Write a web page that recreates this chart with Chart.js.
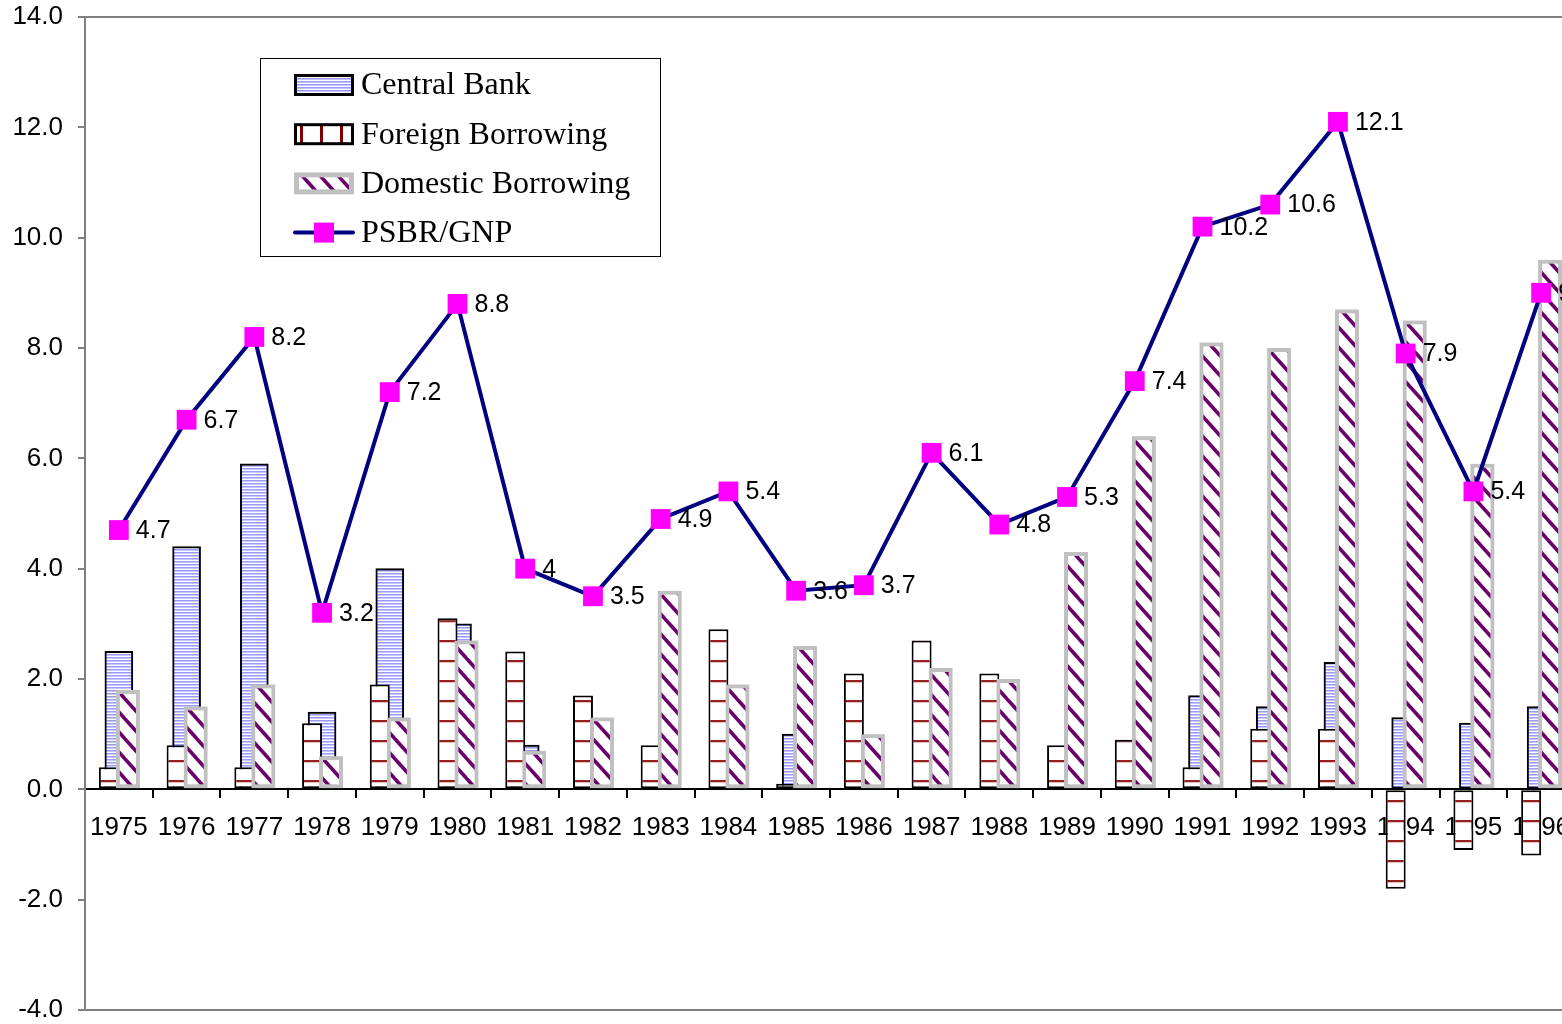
<!DOCTYPE html>
<html>
<head>
<meta charset="utf-8">
<title>PSBR/GNP and its financing</title>
<script src="https://cdn.jsdelivr.net/npm/chart.js@4.4.1/dist/chart.umd.min.js"></script>
<style>
  html, body { margin: 0; padding: 0; background: #fff; overflow: hidden; }
  #wrap { width: 1589px; height: 1024px; }
</style>
</head>
<body>
<div id="wrap"><canvas id="psbr" width="1589" height="1024"></canvas></div>
<script>
// financing of the public sector borrowing requirement, % of GNP
var years = ['1975', '1976', '1977', '1978', '1979', '1980', '1981', '1982', '1983', '1984', '1985',
             '1986', '1987', '1988', '1989', '1990', '1991', '1992', '1993', '1994', '1995', '1996'];
var centralBank       = [2.5, 4.4, 5.9, 1.4, 4.0, 3.0, 0.8, 0.0, 0.0, 0.0, 1.0,
                         0.0, 0.0, 0.0, 0.0, 0.0, 1.7, 1.5, 2.3, 1.3, 1.2, 1.5];
var foreignBorrowing  = [0.4, 0.8, 0.4, 1.2, 1.9, 3.1, 2.5, 1.7, 0.8, 2.9, 0.1,
                         2.1, 2.7, 2.1, 0.8, 0.9, 0.4, 1.1, 1.1, -1.8, -1.1, -1.2];
var domesticBorrowing = [1.8, 1.5, 1.9, 0.6, 1.3, 2.7, 0.7, 1.3, 3.6, 1.9, 2.6,
                         1.0, 2.2, 2.0, 4.3, 6.4, 8.1, 8.0, 8.7, 8.5, 5.9, 9.6];
var psbrGnp           = [4.7, 6.7, 8.2, 3.2, 7.2, 8.8, 4, 3.5, 4.9, 5.4, 3.6,
                         3.7, 6.1, 4.8, 5.3, 7.4, 10.2, 10.6, 12.1, 7.9, 5.4, 9];
var yMin = -4, yMax = 14, yStep = 2;

var sansFont = '"Liberation Sans", Arial, sans-serif';
var serifFont = '"Liberation Serif", "Times New Roman", serif';

function makePattern(w, h, paint) {
  var c = document.createElement('canvas');
  c.width = w; c.height = h;
  var g = c.getContext('2d');
  paint(g, w, h);
  return g.createPattern(c, 'repeat');
}

// fine horizontal blue hatching
var blueLines = makePattern(4, 3, function (g, w, h) {
  g.fillStyle = '#fff'; g.fillRect(0, 0, w, h);
  g.fillStyle = '#9a9aff'; g.fillRect(0, 0, w, 1);
  g.fillStyle = '#c6c6ff'; g.fillRect(0, 1, w, 1);
});
// wide dark-red rules
var redRules = makePattern(4, 20, function (g, w, h) {
  g.fillStyle = '#fff'; g.fillRect(0, 0, w, h);
  g.fillStyle = '#962020'; g.fillRect(0, 0, w, 2);
  g.fillStyle = '#e6c0c0'; g.fillRect(0, 2, w, 1);
});
var redRulesV = makePattern(20, 4, function (g, w, h) {
  g.fillStyle = '#fff'; g.fillRect(0, 0, w, h);
  g.fillStyle = '#800000'; g.fillRect(0, 0, 3, h);
});
// purple downward diagonals
var purpleDiag = makePattern(18, 20, function (g, w, h) {
  g.fillStyle = '#fff'; g.fillRect(0, 0, w, h);
  g.strokeStyle = '#6a006a'; g.lineWidth = 3.6;
  [-w, 0, w].forEach(function (dx) {
    g.beginPath();
    g.moveTo(dx - w, -h);
    g.lineTo(dx + 2 * w, 2 * h);
    g.stroke();
  });
});

// frame of the plot area (top/bottom rules)
var plotFrame = {
  id: 'plotFrame',
  beforeDatasetsDraw: function (chart) {
    var a = chart.chartArea, ctx = chart.ctx;
    ctx.save();
    ctx.strokeStyle = '#808080';
    ctx.lineWidth = 2;
    ctx.strokeRect(a.left, a.top, a.right - a.left, a.bottom - a.top);
    ctx.restore();
  }
};

// domestic bars overlap the foreign ones, so paint them again once foreign is done
var overlapOrder = {
  id: 'overlapOrder',
  afterDatasetDraw: function (chart, args) {
    if (args.index !== 1) return;
    var ctx = chart.ctx;
    ctx.save();
    chart.getDatasetMeta(2).data.forEach(function (el) { el.draw(ctx, chart.chartArea); });
    ctx.restore();
  }
};

// value labels beside the PSBR markers
var pointLabels = {
  id: 'pointLabels',
  afterDatasetsDraw: function (chart) {
    var idx = chart.data.datasets.findIndex(function (d) { return d.type === 'line'; });
    var meta = chart.getDatasetMeta(idx);
    var vals = chart.data.datasets[idx].data;
    var ctx = chart.ctx;
    ctx.save();
    ctx.font = '25px ' + sansFont;
    ctx.fillStyle = '#000';
    ctx.textAlign = 'left';
    ctx.textBaseline = 'middle';
    meta.data.forEach(function (pt, i) {
      ctx.fillText(String(vals[i]), pt.x + 17, pt.y + 1);
    });
    ctx.restore();
  }
};

// boxed legend sitting inside the plot
var boxLegend = {
  id: 'boxLegend',
  afterDraw: function (chart, args, opts) {
    var ctx = chart.ctx;
    var b = opts.box;
    ctx.save();
    ctx.fillStyle = '#fff';
    ctx.fillRect(b.x, b.y, b.w, b.h);
    ctx.strokeStyle = '#000';
    ctx.lineWidth = 1;
    ctx.strokeRect(b.x + 0.5, b.y + 0.5, b.w, b.h);
    ctx.font = opts.font;
    ctx.textBaseline = 'middle';
    ctx.textAlign = 'left';
    chart.data.datasets.forEach(function (ds, i) {
      var cy = b.y + 27 + i * 49.2;
      var sx = b.x + 34, sw = 60;
      if (ds.type === 'line') {
        ctx.strokeStyle = ds.borderColor;
        ctx.lineWidth = 4;
        ctx.lineCap = 'round';
        ctx.beginPath();
        ctx.moveTo(sx + 1, cy); ctx.lineTo(sx + sw - 1, cy);
        ctx.stroke();
        ctx.fillStyle = ds.pointBackgroundColor;
        ctx.fillRect(sx + sw / 2 - 10, cy - 10, 20, 20);
      } else {
        var bw = ds.borderWidth + 1;
        ctx.fillStyle = ds.borderColor;
        ctx.fillRect(sx, cy - 11, sw, 22);
        ctx.fillStyle = ds.legendFill || ds.backgroundColor;
        ctx.fillRect(sx + bw, cy - 11 + bw, sw - 2 * bw, 22 - 2 * bw);
      }
      ctx.fillStyle = '#000';
      ctx.fillText(ds.label, b.x + 101, cy + 1);
    });
    ctx.restore();
  }
};

new Chart(document.getElementById('psbr'), {
  data: {
    labels: years,
    datasets: [
      {
        type: 'bar', label: 'Central Bank', data: centralBank,
        backgroundColor: blueLines, borderColor: '#000', borderWidth: 2, borderSkipped: false,
        grouped: false, barThickness: 28, order: 3
      },
      {
        type: 'bar', label: 'Foreign Borrowing', data: foreignBorrowing,
        backgroundColor: redRules, legendFill: redRulesV, borderColor: '#000', borderWidth: 2, borderSkipped: false,
        categoryPercentage: 40 / 67.8, barPercentage: 1, order: 1
      },
      {
        type: 'bar', label: 'Domestic Borrowing', data: domesticBorrowing,
        backgroundColor: purpleDiag, borderColor: '#c0c0c0', borderWidth: 4, borderSkipped: false,
        categoryPercentage: 36 / 67.8, barPercentage: 24 / 18, order: 2
      },
      {
        type: 'line', label: 'PSBR/GNP', data: psbrGnp,
        borderColor: '#000080', borderWidth: 4, tension: 0,
        pointStyle: 'rect', pointRadius: 14, pointHoverRadius: 14,
        pointBackgroundColor: '#ff00ff', pointBorderColor: '#ff00ff', pointBorderWidth: 0,
        order: 0
      }
    ]
  },
  options: {
    responsive: false,
    devicePixelRatio: 1,
    animation: false,
    layout: { padding: { top: 17, bottom: 14, left: 0, right: 3 } },
    scales: {
      x: {
        type: 'category',
        offset: true,
        position: { y: 0 },
        grid: { offset: true, drawOnChartArea: false, drawTicks: true, tickLength: 8, color: '#000', lineWidth: 2 },
        border: { color: '#000', width: 2 },
        ticks: { color: '#000', font: { family: sansFont, size: 26 }, padding: 15, maxRotation: 0, autoSkip: false },
        afterFit: function (scale) {
          scale.paddingLeft = 0;
          scale.paddingRight = 0;
        }
      },
      y: {
        min: yMin, max: yMax,
        grid: { drawOnChartArea: false, drawTicks: true, tickLength: 7, color: '#808080', lineWidth: 2 },
        border: { color: '#808080', width: 2 },
        ticks: {
          stepSize: yStep, color: '#000', padding: 15,
          font: { family: sansFont, size: 26 },
          callback: function (v) { return Number(v).toFixed(1); }
        },
        afterFit: function (scale) {
          scale.width = 85;
          scale.paddingTop = 0;
          scale.paddingBottom = 0;
        }
      }
    },
    plugins: {
      legend: { display: false },
      tooltip: { enabled: false },
      boxLegend: { box: { x: 260, y: 58, w: 400, h: 198 }, font: '32px ' + serifFont }
    }
  },
  plugins: [plotFrame, overlapOrder, pointLabels, boxLegend]
});
</script>
</body>
</html>
